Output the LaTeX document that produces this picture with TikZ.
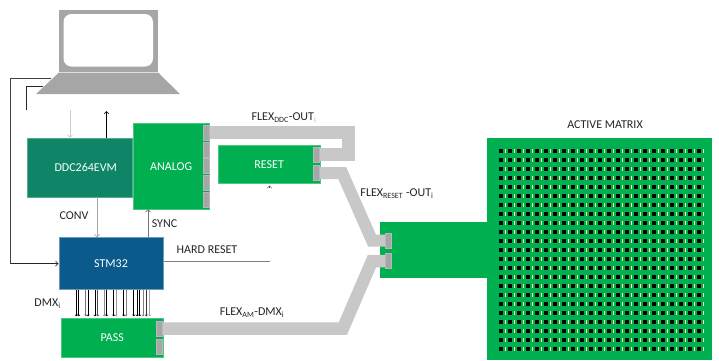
\documentclass[tikz,border=0pt]{standalone}
\usepackage{fontspec}
\setmainfont{Carlito}
\usetikzlibrary{arrows.meta}
\definecolor{grn}{HTML}{00B050}
\definecolor{teal2}{HTML}{0E8567}
\definecolor{blu}{HTML}{0A5A8C}
\definecolor{pad}{HTML}{A6A6A6}
\definecolor{flx}{HTML}{C8C8C8}
\definecolor{txt}{HTML}{262626}
\pgfdeclarelayer{bodies}\pgfdeclarelayer{flexes}
\pgfsetlayers{bodies,flexes,main}
\tikzset{
  body/.style={inner sep=0pt,text=white,font=\fontsize{12}{14}\selectfont,draw=#1!70!white,line width=0.5pt,fill=#1},
  padbox/.style={inner sep=0pt,minimum width=6pt,minimum height=15pt,fill=pad,draw=pad!80!white,line width=0.4pt},
  flexband/.style={draw=flx,line width=13pt,miter limit=10,line join=miter},
  lbl/.style={inner sep=0pt,text=txt,font=\fontsize{12}{14}\selectfont},
  tipline/.style={-{Straight Barb[length=2.5pt,width=5pt]},line width=0.7pt,draw=#1},
  dmxline/.style={-{Straight Barb[length=1.2pt,width=2.6pt]},line width=0.5pt,draw=#1,shorten >=1.5pt},
  plainline/.style={line width=0.8pt,draw=#1}
}
\newcommand{\sbs}[1]{\textsubscript{#1}}
\begin{document}
\begin{tikzpicture}[x=1pt,y=-1pt]
\useasboundingbox (0,0) rectangle (719,360);
\begin{pgfonlayer}{bodies}
\fill[white] (0,0) rectangle (719,360);
\end{pgfonlayer}

% laptop
\fill[pad] (58.7,10) rectangle (158,71.5);
\fill[white,rounded corners=8pt] (63.5,14) rectangle (153,66.5);
\fill[pad] (59,72.5) -- (158,72.5) -- (180,94) -- (36,94) -- cycle;
\coordinate (lapA) at (51,78);
\coordinate (lapB) at (43,86.5);
\coordinate (lapC) at (26,110);
\coordinate (lapD) at (70,110);
\coordinate (lapE) at (106.5,111);
\coordinate (railA) at (10.5,78);
\coordinate (railB) at (26,86.5);
\coordinate (hardEnd) at (269.5,261);

\begin{pgfonlayer}{bodies}
\node[body=teal2,minimum width=104.5pt,minimum height=59pt] (ddc) at (79.7,167.5) {\hspace*{12pt}DDC264EVM};
\node[body=grn,minimum width=76.5pt,minimum height=85.5pt] (analog) at (171.2,166.2) {ANALOG};
\node[body=grn,minimum width=101.5pt,minimum height=38.5pt] (reset) at (269.2,164.2) {RESET};
\node[body=blu,minimum width=104.5pt,minimum height=52pt,draw=blu!60!white] (stm) at (111,263.5) {STM32};
\node[body=grn,minimum width=101.7pt,minimum height=39pt] (pass) at (112.2,337.5) {PASS};
\fill[grn] (380,222) rectangle (487.5,278);
\fill[grn] (487,138) rectangle (712,360);
\end{pgfonlayer}

% pads
\node[padbox] (a1) at (206,132.5) {};
\node[padbox] (a2) at (206,149.3) {};
\node[padbox] (a3) at (206,166) {};
\node[padbox] (a4) at (206,183) {};
\node[padbox] (a5) at (206,199.7) {};
\node[padbox] (r1) at (316,154.5) {};
\node[padbox] (r2) at (316,173) {};
\node[padbox] (p1) at (159,328.7) {};
\node[padbox] (p2) at (159,346.5) {};
\node[padbox] (m1) at (388,240.5) {};
\node[padbox] (m2) at (388,261) {};

% flex bands
\coordinate (b1) at (348.5,132.5);
\coordinate (b2) at (348.5,154.5);
\coordinate (b3) at (342.2,173);
\coordinate (b4) at (372,240.5);
\coordinate (b5) at (342.8,328.7);
\coordinate (b6) at (372,261);
\begin{pgfonlayer}{flexes}
\draw[flexband] (a1.center) -- (b1) -- (b2) -- (r1.center);
\draw[flexband,line width=12pt] (r2.center) -- (b3) -- (b4) -- (m1.center);
\draw[flexband,line width=12.5pt] (p1.center) -- (b5) -- (b6) -- (m2.center);
\end{pgfonlayer}

% connectors
\draw[plainline=black!75] (lapA) -- (railA) -- (railA |- stm.west) coordinate (railC);
\draw[tipline=black!85] (railC) -- (stm.west);
\draw[plainline=black!85] (lapB) -- (railB) -- (lapC);
\draw[tipline=black!20,line width=0.6pt] (lapD) -- (lapD |- ddc.north);
\draw[tipline=black] (ddc.north -| lapE) -- (lapE);
\coordinate (convX) at (97,0);
\coordinate (syncX) at (148,0);
\draw[tipline=black!35] (ddc.south -| convX) -- (stm.north -| convX);
\draw[tipline=black!55] (stm.north -| syncX) -- (analog.south -| syncX);
\draw[plainline=black!50] (stm.east |- hardEnd) -- (hardEnd);
\foreach \xv/\sh [count=\i] in {76.3/black,78.7/black,85.7/black!55,88/black,95/black,97.7/black!70,104.3/black!45,106.7/black,113.7/black,116/black!40,123.7/black,126/black!50,133.7/black,137/black,139.7/black,143/black!50,146.3/black!80,149.7/black!35}{
  \coordinate (dmx\i) at (\xv,0);
  \draw[dmxline=\sh] (stm.south -| dmx\i) -- (pass.north -| dmx\i);
}
\coordinate (caret) at (269.5,188);
\draw[tipline=black!70,line width=0.5pt] (caret) -- (269.5,185.5);

% active matrix dots
\foreach \r in {0,...,22}{
  \foreach \c in {0,...,22}{
    \fill[black] ({500.7+9*\c-2.2},{150.7+9*\r-2.2}) rectangle ++(4.4,4.4);
    \fill[yellow!45!white] ({505.2+9*\c-0.65},{150.7+9*\r-2.2}) rectangle ++(1.3,4.4);
  }
}

% labels
\node[lbl] (lconv) at (74,216) {CONV};
\node[lbl] (lsync) at (164.5,224) {SYNC};
\node[lbl] (lhard) at (207,250) {HARD RESET};
\node[lbl] (ldmx) at (47.5,303.5) {DMX\sbs{i}};
\node[lbl] (lfd) at (284,117.5) {FLEX\sbs{DDC}-OUT\sbs{\textcolor{black!30}{i}}};
\node[lbl] (lfr) at (397,194) {FLEX\sbs{RESET} -OUT\sbs{i}};
\node[lbl] (lfa) at (252,312.5) {FLEX\sbs{AM}-DMX\sbs{i}};
\node[lbl] (lam) at (605,125) {ACTIVE MATRIX};
\end{tikzpicture}
\end{document}
